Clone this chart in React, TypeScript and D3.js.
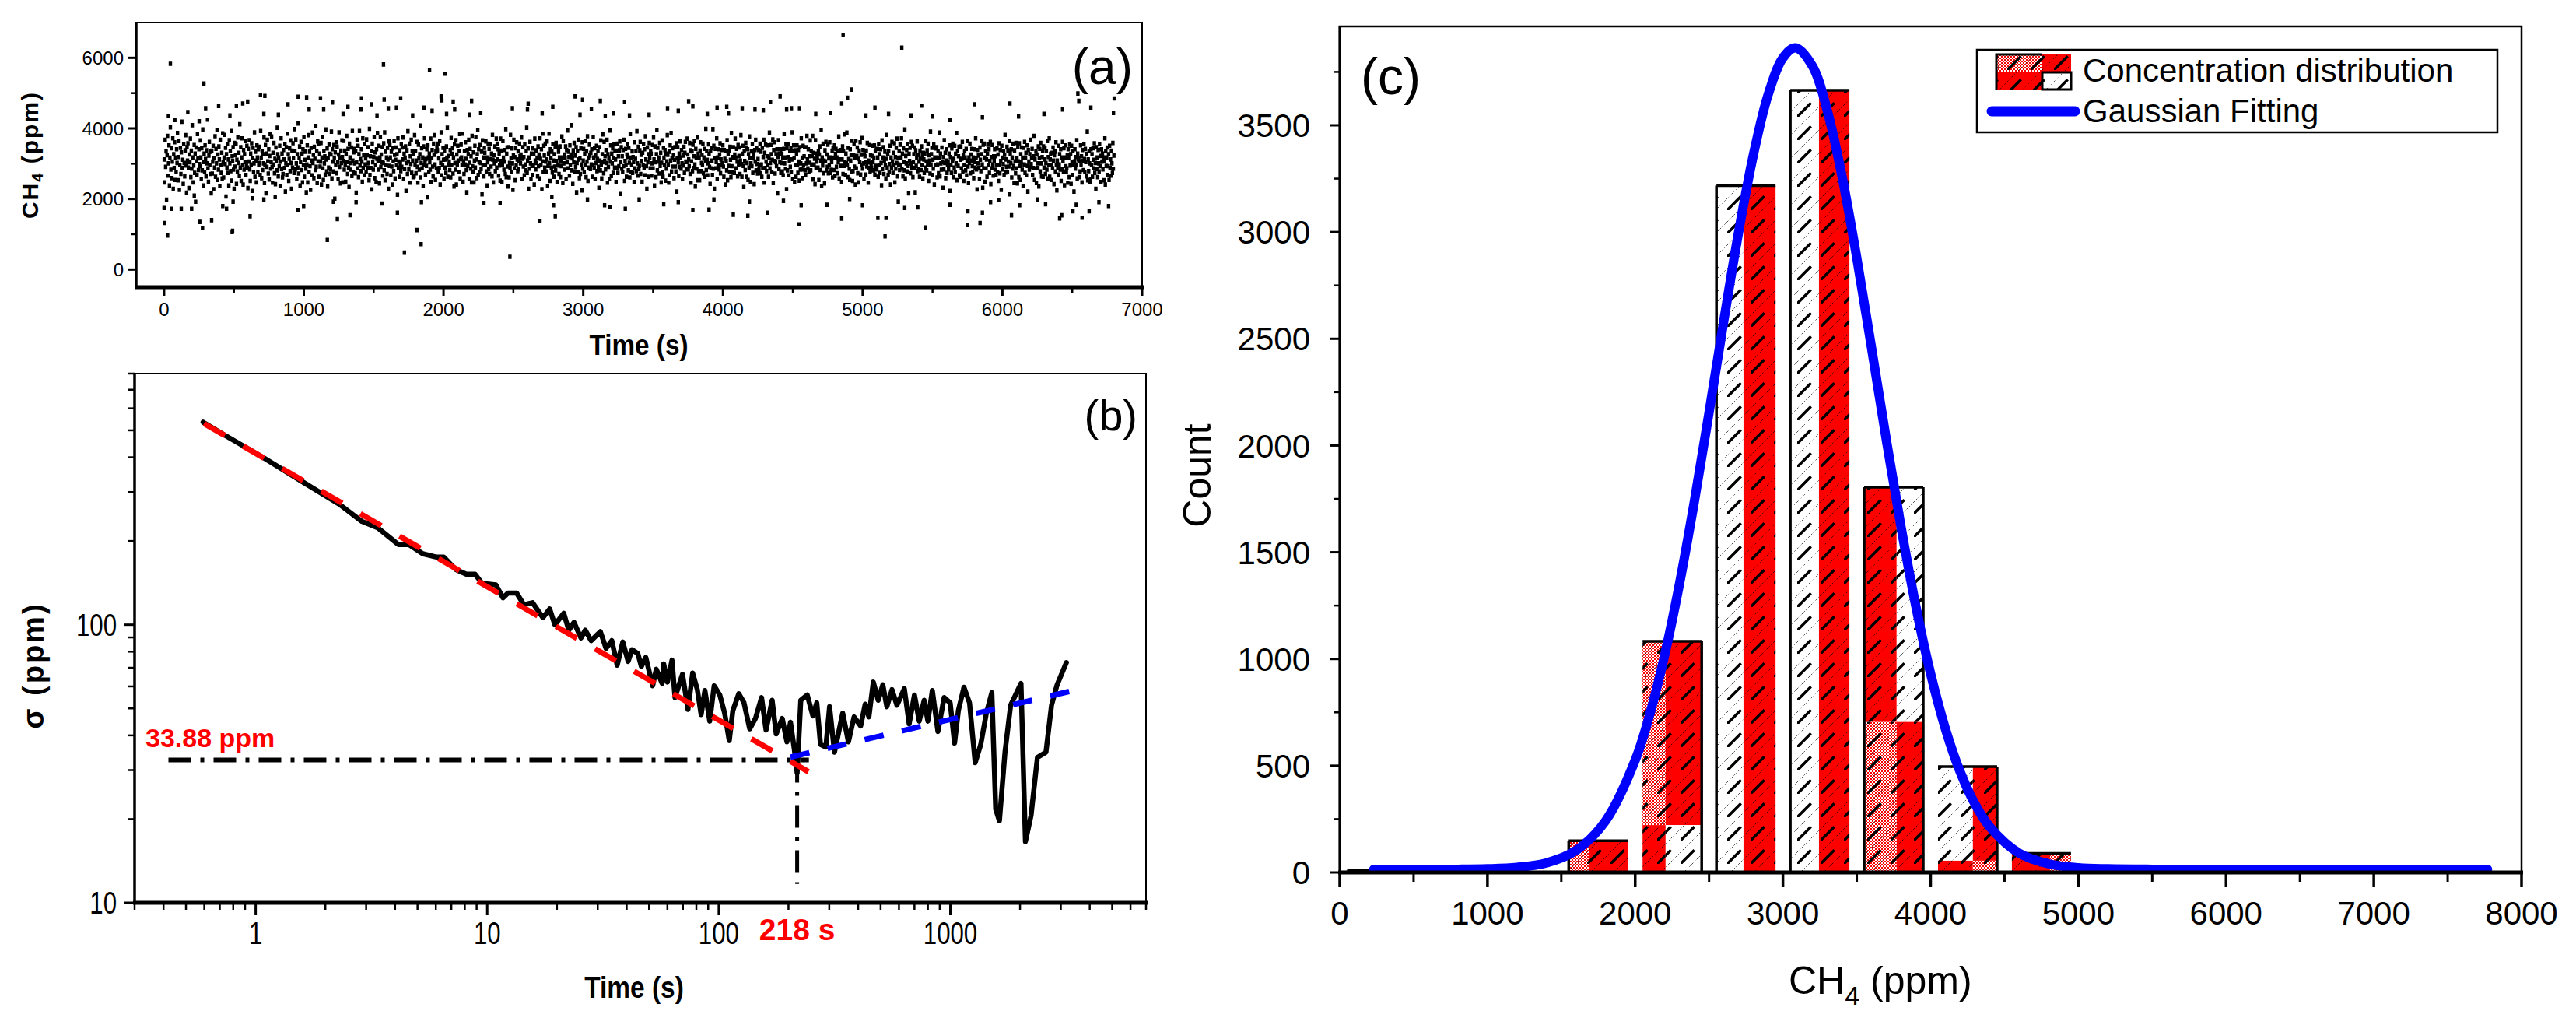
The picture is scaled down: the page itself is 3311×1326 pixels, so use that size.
import * as d3 from 'd3';

const W = 3311;
const H = 1326;
const FONT = '"Liberation Sans", Arial, sans-serif';

// ---------- (a) CH4 time series ----------
const A_X_TICKS = [0, 1000, 2000, 3000, 4000, 5000, 6000, 7000];
const A_X_MINOR = [500, 1500, 2500, 3500, 4500, 5500, 6500];
const A_Y_TICKS = [0, 2000, 4000, 6000];
const A_Y_MINOR = [1000, 3000, 5000];
const SAMPLE_STEP = 3.4; // seconds between the kept samples
// CH4 readings in units of 10 ppm
const CH4_TENS = [
  312,247,368,291,335,198,324,379,266,301,352,238,317,403,283,344,259,306,372,229,327,288,361,254,318,
  276,341,302,387,253,319,364,226,297,345,271,332,419,288,311,243,356,302,264,338,381,295,218,347,309,
  358,289,231,326,304,371,262,337,286,409,318,247,295,353,274,329,192,346,307,268,384,315,282,341,299,
  293,366,318,257,344,281,397,305,238,329,276,352,313,264,338,301,425,287,249,323,362,296,271,334,216,
  337,272,306,351,228,315,289,378,263,342,301,395,254,326,283,349,312,237,368,297,274,331,258,386,304,
  261,318,382,299,345,207,327,289,356,274,312,238,367,301,336,279,393,252,321,308,347,283,229,359,292,
  324,356,243,311,278,374,302,331,265,412,289,347,251,318,372,296,241,339,283,327,305,364,268,295,351,
  289,231,342,306,367,284,251,329,298,358,223,316,345,276,301,389,263,334,309,247,352,318,277,341,296,
  348,302,268,393,317,259,336,282,327,301,374,245,298,353,216,329,291,368,307,272,341,255,322,384,286,
  305,377,291,246,331,298,359,273,314,242,346,309,281,402,327,264,318,293,351,236,306,372,285,329,261,
  271,339,312,288,356,221,301,347,268,385,296,327,251,314,343,279,366,302,229,337,289,358,316,274,398,
  336,284,369,301,257,327,289,414,272,316,349,238,305,362,282,328,247,341,297,376,263,311,334,286,219,
  298,352,247,318,381,276,334,293,226,345,309,267,388,302,325,259,348,314,282,407,291,336,245,363,307,
  357,263,329,292,306,359,241,318,375,287,254,336,301,321,269,397,312,278,343,235,316,289,354,271,328,
  284,326,391,258,341,306,278,353,317,201,332,296,361,273,348,304,256,326,389,291,318,244,337,302,366,
  319,247,308,365,283,337,296,249,328,379,305,271,342,289,234,357,318,283,302,346,265,393,309,276,332,
  342,301,273,336,218,304,368,287,351,262,327,393,295,313,279,341,306,249,372,288,324,356,267,298,315,
  276,369,324,289,347,302,253,399,268,321,288,336,227,357,304,283,319,375,259,332,296,248,341,314,387,
  309,283,351,244,318,376,291,326,304,347,266,302,358,281,389,253,334,297,318,271,345,312,229,363,294,
  353,318,267,334,292,241,343,307,279,364,325,258,311,346,296,327,212,372,289,306,263,338,301,279,356,
  291,346,312,374,256,328,285,317,349,223,302,338,271,392,306,284,357,246,321,299,368,274,335,309,262,
  327,264,381,298,336,273,309,362,291,246,354,315,283,327,408,261,302,344,287,318,236,349,297,372,308,
  269,313,294,341,205,352,318,276,329,304,283,371,248,316,339,292,264,357,325,381,298,254,334,287,346,
  338,357,276,315,288,364,241,302,389,267,327,296,345,311,258,336,289,312,274,349,317,402,263,296,322,
  306,282,339,261,373,297,328,344,272,318,235,355,302,283,367,241,326,298,351,309,277,336,384,258,313,
  354,318,296,385,249,307,271,336,298,361,314,282,219,339,294,327,368,256,303,342,286,321,247,379,293,
  278,332,247,309,351,289,376,312,259,327,396,268,341,305,276,353,302,285,334,213,366,297,318,264,345,
  331,296,363,278,318,238,304,357,285,342,271,313,356,292,329,264,382,311,247,324,301,349,279,308,371,
  289,357,312,341,266,329,295,252,371,308,337,248,296,364,317,283,306,339,271,398,262,328,346,292,235,
  347,261,302,289,382,316,277,343,301,226,325,368,287,319,253,344,297,361,312,279,335,284,309,357,321,
  301,326,374,256,314,347,292,319,267,355,298,281,336,402,274,309,343,229,318,286,362,301,257,329,294,
  268,343,295,328,241,371,309,284,338,302,317,264,349,293,326,258,372,314,297,341,228,307,385,276,351,
  323,289,357,306,278,312,363,236,294,329,385,302,251,341,316,289,334,275,356,309,263,327,292,348,281,
  359,308,248,347,295,334,271,318,349,262,306,293,377,318,245,364,301,326,283,317,349,256,339,304,394,
  287,334,319,266,352,297,326,409,281,315,243,338,304,359,278,323,291,347,219,302,336,277,368,312,259,
  316,271,343,298,224,361,286,309,342,276,329,364,297,262,335,306,378,251,317,289,354,323,285,331,298,
  341,297,263,376,318,289,344,257,323,302,351,279,313,336,291,232,347,309,281,366,296,258,327,383,304,
  273,362,308,321,284,339,302,368,246,327,291,318,256,394,306,352,265,329,301,343,274,316,355,289,337,
  312,248,336,289,357,274,321,293,338,363,214,305,347,286,321,276,339,293,368,251,308,342,297,263,326,
  356,319,281,345,303,261,384,317,276,298,335,274,319,305,248,361,287,314,336,279,392,301,266,348,285,
  294,338,362,271,325,308,249,331,297,356,288,341,267,378,312,293,229,346,304,327,263,359,318,287,336,
  328,266,301,353,287,374,312,238,349,304,262,327,396,281,345,306,318,272,359,294,331,247,303,366,275,
  263,345,317,296,339,252,329,286,307,381,325,298,246,334,267,352,309,387,278,316,344,292,325,259,311,
  347,292,278,358,221,316,347,304,265,329,291,363,318,286,339,301,256,323,295,348,274,331,362,306,284,
  305,371,326,284,312,293,359,271,338,246,307,335,279,354,288,321,364,298,235,342,317,286,253,374,329,
  279,318,253,337,361,279,302,325,296,357,273,318,342,263,309,399,282,336,311,267,301,355,328,291,243,
  336,287,344,309,268,398,286,351,229,316,342,287,305,372,256,318,297,341,284,326,358,273,312,339,298,
  301,352,292,263,339,314,241,336,308,281,367,253,328,294,336,276,348,311,262,387,293,319,275,347,316,
  274,326,371,318,287,342,306,264,353,297,322,346,271,309,381,299,263,328,351,294,234,336,308,282,359,
  345,263,302,341,254,327,289,377,316,248,301,335,293,356,274,327,315,242,339,306,368,281,344,299,272,
  313,339,284,296,357,273,334,298,263,345,287,319,368,246,331,288,354,306,279,321,297,352,263,318,388,
  287,302,353,327,276,311,369,245,339,308,361,272,304,327,293,341,216,319,367,285,328,304,341,274,302,
  329,278,316,267,342,384,301,318,286,356,228,344,281,319,356,267,309,336,291,343,276,312,389,256,337,
  352,316,248,338,296,263,327,352,297,274,339,306,252,347,283,301,372,284,317,259,351,295,321,347,281,
  268,347,301,379,312,287,341,276,321,303,366,281,336,298,322,379,255,331,298,314,242,367,289,306,329,
  317,289,335,254,326,349,282,309,396,237,318,295,357,273,309,244,338,307,362,281,326,291,354,273,315,
  296,361,274,318,283,305,337,261,344,317,282,352,265,328,342,291,318,273,336,304,377,258,312,339,294,
  338,248,312,349,271,336,294,383,305,268,329,301,388,296,262,345,313,286,254,341,309,324,278,365,251,
  279,324,357,292,318,241,365,287,322,346,273,314,247,337,305,361,269,325,297,373,286,339,301,257,326,
  321,305,269,337,292,359,304,246,309,288,353,276,324,301,289,322,351,304,281,317,352,269,336,294,342,
  284,342,318,263,356,297,327,274,341,302,239,366,285,318,347,271,309,334,296,258,382,314,289,327,268,
  336,276,299,351,241,318,289,362,307,274,331,296,358,247,319,286,345,302,371,264,317,298,336,282,354,
  297,318,372,286,329,264,343,305,281,397,258,322,301,339,278,356,294,216,328,308,345,273,301,362,289,
  351,262,305,327,288,346,219,338,294,317,363,279,325,284,306,263,337,314,282,349,297,323,258,331,312,
  274,329,289,364,307,281,338,296,357,251,324,309,272,391,298,327,345,268,311,286,354,241,318,296,343,
  318,347,261,298,336,273,316,388,264,329,301,283,346,305,232,319,284,367,302,331,259,309,341,274,296,
  306,284,329,352,223,319,296,274,343,308,357,262,314,289,351,276,328,301,387,253,336,294,321,348,267,
  263,311,349,287,314,362,278,324,251,297,336,318,281,342,267,309,364,292,245,318,302,357,273,326,309,
  342,293,276,318,259,305,341,289,372,316,284,227,339,301,323,288,256,346,311,279,327,364,298,232,354,
  287,357,318,249,336,287,312,263,328,354,296,341,274,308,362,242,319,287,353,298,266,321,309,341,283,
  321,268,297,343,277,326,251,358,297,273,339,308,226,351,284,317,299,336,268,325,382,275,312,291,348,
  276,338,306,292,364,213,329,302,341,261,318,286,357,294,245,338,307,273,359,287,316,244,348,307,262,
  358,294,254,327,305,346,283,317,236,345,298,362,274,318,331,267,352,294,221,339,306,283,327,368,291,
  299,317,342,268,288,321,379,254,312,287,334,245,326,301,288,349,235,316,342,278,359,301,264,319,337,
  263,349,289,312,345,271,302,336,283,364,258,319,297,372,263,312,328,254,296,331,287,346,309,242,324,
  334,278,361,297,224,309,287,351,269,298,327,283,341,251,318,286,362,309,278,344,239,318,352,293,276,
  287,323,246,341,318,262,354,295,327,243,351,304,268,336,296,221,307,341,286,319,298,367,258,329,312,
  316,262,307,278,352,296,321,247,339,308,282,356,313,277,342,305,264,328,391,253,312,279,336,301,248,
  255,341,296,327,263,344,287,311,358,274,302,229,347,285,318,262,339,301,278,356,293,322,248,341,306,
  329,284,318,253,307,372,241,336,294,318,346,268,293,327,254,351,288,312,266,337,301,274,359,286,323,
];
// sparse readings outside the dense band: [time s, ppm]
const CH4_SPARSE: [number, number][] = [
  [45, 5830], [285, 5270], [1570, 5810], [1900, 5650], [2010, 5550], [4860, 6640], [5280, 6290],
  [4920, 5100], [6540, 4990], [6800, 4850], [690, 4950], [960, 4900], [1020, 4880],
  [5, 1320], [25, 960], [275, 1180], [255, 1350], [340, 1400], [487, 1065], [490, 1100],
  [615, 1510], [1168, 840], [1240, 1430], [1330, 1540], [1720, 480], [1840, 720], [1810, 1120],
  [2475, 360], [2690, 1380], [2800, 1510], [4545, 1280], [5160, 940], [5450, 1190], [5750, 1260],
  [5840, 1320], [6410, 1450], [6570, 1470],
  // upper fringe
  [721, 4921], [1119, 4854], [1205, 4736], [1413, 4854], [1575, 4817], [1693, 4854], [1983, 4906],
  [1988, 4795], [2069, 4758], [2201, 4780], [2606, 4699], [2942, 4906], [2995, 4810], [3122, 4780],
  [3296, 4743], [563, 4706], [598, 4758], [517, 4632], [390, 4632], [297, 4573], [170, 4462],
  [887, 4684], [1038, 4536], [1142, 4536], [1316, 4610], [1409, 4536], [1485, 4684], [1605, 4573],
  [1663, 4588], [1860, 4588], [1918, 4499], [2080, 4536], [2493, 4573], [2601, 4536], [2782, 4610],
  [3058, 4558], [3215, 4425], [3157, 4351], [3331, 4366], [2977, 4388], [2706, 4425], [2266, 4440],
  [2185, 4388], [2022, 4410], [1779, 4366], [1524, 4366], [1281, 4410], [818, 4388], [714, 4410],
  [471, 4366], [31, 4351], [77, 4240], [251, 4203],
  [4409, 4906], [4340, 4743], [4891, 4869], [3754, 4773], [3784, 4625], [3603, 4573], [3958, 4588],
  [4027, 4610], [4138, 4573], [4229, 4536], [4490, 4573], [4548, 4573], [4850, 4706], [5088, 4588],
  [5422, 4647], [5799, 4684], [6054, 4706], [6547, 4780], [6633, 4588], [6795, 4440], [6431, 4536],
  [6297, 4410], [6116, 4336], [5857, 4314], [5625, 4240], [5498, 4336], [5347, 4366], [5185, 4410],
  [5023, 4366], [4769, 4440], [4664, 4410], [4456, 4536], [4289, 4514], [4039, 4425], [3888, 4410],
  [3680, 4499], [3471, 4388],
  // lower fringe
  [1670, 1613], [0, 1746], [54, 1724], [123, 1724], [197, 1724], [447, 1724], [420, 1798],
  [957, 1687], [999, 1798], [1842, 1909], [2289, 1887], [2405, 1887], [2787, 1820], [3153, 1820],
  [3192, 1776], [3301, 1724], [3400, 1983], [3030, 1983], [2775, 2057], [1559, 1872], [1374, 1909],
  [1212, 1924], [795, 2057], [633, 2020], [216, 2094], [494, 1924], [714, 1983],
  [4850, 1443], [5109, 1465], [5167, 1465], [5753, 1650], [5857, 1613], [6065, 1539], [6424, 1539],
  [6505, 1650], [6621, 1650], [4074, 1554], [4178, 1524], [4317, 1613], [3784, 1687], [3900, 1702],
  [3576, 1850], [3680, 1909], [4560, 1820], [4745, 1835], [4999, 1820], [5301, 1746], [5394, 1761],
  [5625, 1835], [5915, 1909], [6123, 1820], [6309, 1850], [6760, 1798], [6691, 1909], [6529, 1835],
  [3935, 1983], [4189, 1924], [4433, 1946], [4907, 1998], [5255, 1924], [5973, 1968], [6251, 1983],
];

// ---------- (b) Allan deviation ----------
const ALLAN: [number, number][] = [
  [0.593, 535], [0.736, 480], [1.08, 399], [1.57, 329], [2.3, 271], [2.88, 235], [3.37, 223],
  [4.14, 194], [4.59, 194], [5.27, 180], [6.05, 175], [6.49, 175], [7.32, 158], [8.12, 152],
  [8.86, 152], [9.49, 141], [10.9, 139], [11.7, 125], [12.3, 130], [13.4, 130], [14.4, 118],
  [15.7, 120], [17.4, 106], [18.6, 114], [19.6, 100], [21.4, 110], [22.5, 95.6], [23.7, 102],
  [25.4, 89.6], [26.5, 95.6], [28.1, 87.7], [30.8, 94.5], [32.6, 82.2], [34.5, 87.7], [36.4, 71.5],
  [38.5, 86.7], [40.6, 73.8], [42.2, 81.3], [44.7, 78.8], [46.3, 70.8], [48.4, 76.3], [51.8, 60.3],
  [53.7, 69.2], [56.9, 61.5], [57.8, 72.3], [60, 62.2], [62.8, 74.6], [64.7, 54.7], [69.7, 66.4],
  [73.6, 49.6], [77.1, 67], [80.8, 58.4], [83.9, 47.5], [87.1, 58], [91.4, 45], [95.5, 60.3],
  [101, 55.9], [106, 48.1], [111, 38.3], [115, 49.1], [122, 56.5], [128.5, 52.4], [136, 42.2],
  [144, 46], [153, 54.7], [160, 41.8], [170, 53.5], [177, 40.5], [188, 46], [197, 37.9],
  [204, 44.6], [212, 35.6], [218, 29.3], [226, 53.5], [241, 55.9], [255, 47], [265, 52.4],
  [275, 37.1], [290, 36.3], [301, 50.7], [316, 34.8], [343, 48.1], [363, 37.9], [384, 46.6],
  [410, 43.2], [429, 51.8], [445, 46.6], [465, 62.2], [488, 53.5], [511, 60.8], [532, 50.7],
  [560, 58.4], [588, 51.3], [633, 58.9], [664, 44], [700, 55.9], [734, 45], [771, 53.5],
  [800, 45], [836, 58], [884, 41.3], [940, 54.7], [998, 52.4], [1043, 37.5], [1083, 49.1],
  [1145, 59.6], [1210, 52.4], [1280, 31.9], [1353, 37.1], [1431, 48.1], [1511, 57], [1570, 21.7],
  [1629, 19.7], [1722, 34.8], [1821, 51.3], [2019, 61.5], [2110, 16.6], [2231, 20.6], [2377, 33.3],
  [2588, 34.8], [2735, 51.3], [2891, 60.8], [3171, 73.1],
];
const FIT_WHITE: [number, number][] = [[0.598, 529], [244, 29.6]];
const FIT_DRIFT: [number, number][] = [[204, 33.4], [3614, 58.7]];
const SIGMA_LINE: [number, number][] = [[0.42, 32.6], [245, 32.6]];
const TAU_LINE: [number, number][] = [[218, 32.6], [218, 11.7]];
const B_X_LABELS = [1, 10, 100, 1000];
const B_Y_LABELS = [10, 100];

// ---------- (c) histogram ----------
const C_X_TICKS = [0, 1000, 2000, 3000, 4000, 5000, 6000, 7000, 8000];
const C_Y_TICKS = [0, 500, 1000, 1500, 2000, 2500, 3000, 3500];
const BIN_START = [50, 1550, 2050, 2550, 3050, 3550, 4050, 4550];
const BIN_END = [450, 1950, 2450, 2950, 3450, 3950, 4450, 4950];
const BIN_COUNT = [8, 149, 1083, 3217, 3664, 1805, 496, 89];
const BIN_SPLIT_X = [250, 1685, 2206, 2733, 3244, 3770, 4286, 4808];
const BIN_SPLIT_Y = [0, 0, 222, 0, 0, 705, 55, 0];
// fill of [left top, left bottom, right top, right bottom]
const BIN_FILLS = [
  ['red', 'red', 'red', 'red'],
  ['pink', 'pink', 'red', 'red'],
  ['pink', 'red', 'red', 'white'],
  ['white', 'white', 'red', 'red'],
  ['white', 'white', 'red', 'red'],
  ['red', 'pink', 'white', 'red'],
  ['white', 'red', 'red', 'pink'],
  ['red', 'red', 'pink', 'pink'],
];
// black outline on [left, top, right]
const BIN_EDGES = [
  [1, 1, 1], [1, 1, 0], [0, 1, 1], [1, 1, 0], [1, 1, 0], [1, 1, 1], [0, 1, 1], [0, 1, 0],
];
const GAUSS: [number, number][] = [
  [230, 15], [800, 15], [1000, 17], [1200, 24], [1400, 45], [1600, 103], [1800, 242], [2000, 526],
  [2100, 744], [2200, 1020], [2300, 1353], [2400, 1736], [2500, 2155], [2600, 2586], [2700, 3000],
  [2800, 3362], [2900, 3644], [3000, 3816], [3085, 3863], [3200, 3777], [3300, 3570], [3400, 3261],
  [3500, 2879], [3600, 2457], [3700, 2027], [3800, 1617], [3900, 1247], [4000, 931], [4100, 673],
  [4200, 471], [4300, 321], [4400, 214], [4600, 90], [4800, 40], [5000, 22], [5200, 17],
  [5500, 15], [7770, 15],
];

const FILL: Record<string, string> = { red: '#ff0000', white: '#ffffff', pink: 'url(#stipple)' };

export default function App() {
  const xA = d3.scaleLinear().domain([-200, 7000]).range([175, 1468]);
  const yA = d3.scaleLinear().domain([-500, 7000]).range([369, 29]);
  const xB = d3.scaleLog().domain([0.3, 7000]).range([173, 1473]);
  const yB = d3.scaleLog().domain([10, 800]).range([1160, 480]);
  const xC = d3.scaleLinear().domain([0, 8000]).range([1722, 3241]);
  const yC = d3.scaleLinear().domain([0, 3963]).range([1121, 34]);

  const lineB = d3.line<[number, number]>().x(d => xB(d[0])).y(d => yB(d[1]));
  const gaussLine = d3.line<[number, number]>()
    .x(d => xC(d[0])).y(d => yC(d[1])).curve(d3.curveCatmullRom.alpha(0.5));

  const bMinor = xB.ticks().filter(v => !B_X_LABELS.includes(v));
  const bYMinor = yB.ticks().filter(v => !B_Y_LABELS.includes(v));
  const cYMinor = d3.range(250, 3963, 500);
  const cXMinor = d3.range(500, 8000, 1000);

  // scatter as one path of small squares
  const dot = (t: number, v: number) => `M${(xA(t) - 2.2).toFixed(1)},${(yA(v) - 2.8).toFixed(1)}h4.4v5.6h-4.4z`;
  const scatterPath =
    CH4_TENS.map((v, i) => dot(i * SAMPLE_STEP + 1, v * 10)).join('') +
    CH4_SPARSE.map(([t, v]) => dot(t, v)).join('');

  return (
    <svg width={W} height={H} style={{ position: 'absolute', left: 0, top: 0, background: '#fff' }}
      fontFamily={FONT}>
      <defs>
        <pattern id="hatch" patternUnits="userSpaceOnUse" width={30} height={30}>
          <line x1={0} y1={30} x2={30} y2={0} stroke="#000" strokeWidth={3.5} strokeDasharray="25 17.4" />
          <line x1={0} y1={15} x2={15} y2={0} stroke="#000" strokeWidth={1} strokeDasharray="2 2" opacity={0.7} />
          <line x1={15} y1={30} x2={30} y2={15} stroke="#000" strokeWidth={1} strokeDasharray="2 2" opacity={0.7} />
        </pattern>
        <pattern id="stipple" patternUnits="userSpaceOnUse" width={4} height={4}>
          <rect width={4} height={4} fill="#fff" />
          <rect width={2} height={2} fill="#ff0000" />
          <rect x={2} y={2} width={2} height={2} fill="#ff0000" />
        </pattern>
      </defs>

      {/* ===== (a) ===== */}
      <g>
        <path d={scatterPath} fill="#000" />
        <rect x={175} y={29} width={1468 - 175} height={340} fill="none" stroke="#000" strokeWidth={2} />
        <line x1={175} y1={29} x2={175} y2={369} stroke="#000" strokeWidth={3.5} />
        <line x1={173} y1={369} x2={1470} y2={369} stroke="#000" strokeWidth={5} />
        {A_Y_TICKS.map(v => (
          <g key={v}>
            <line x1={164} x2={175} y1={yA(v)} y2={yA(v)} stroke="#000" strokeWidth={3} />
            <text x={159} y={yA(v)} dy="0.36em" textAnchor="end" fontSize={24}>{v}</text>
          </g>
        ))}
        {A_Y_MINOR.map(v => (
          <line key={v} x1={168} x2={175} y1={yA(v)} y2={yA(v)} stroke="#000" strokeWidth={2.5} />
        ))}
        {A_X_TICKS.map(v => (
          <g key={v}>
            <line x1={xA(v)} x2={xA(v)} y1={369} y2={380} stroke="#000" strokeWidth={3} />
            <text x={xA(v)} y={406} textAnchor="middle" fontSize={24}>{v}</text>
          </g>
        ))}
        {A_X_MINOR.map(v => (
          <line key={v} x1={xA(v)} x2={xA(v)} y1={369} y2={376} stroke="#000" strokeWidth={2.5} />
        ))}
        <text transform="translate(49,199) rotate(-90)" textAnchor="middle" fontSize={30} fontWeight="bold" letterSpacing={2}>
          CH<tspan fontSize={20} dy={6}>4</tspan><tspan dy={-6}> (ppm)</tspan>
        </text>
        <text transform="translate(821,456) scale(0.9,1)" textAnchor="middle" fontSize={37} fontWeight="bold">Time (s)</text>
        <text x={1456} y={108} textAnchor="end" fontSize={64}>(a)</text>
      </g>

      {/* ===== (b) ===== */}
      <g>
        <path d={lineB(SIGMA_LINE) ?? ''} fill="none" stroke="#000" strokeWidth={6} strokeDasharray="29 12 5 12" />
        <path d={lineB(TAU_LINE) ?? ''} fill="none" stroke="#000" strokeWidth={5} strokeDasharray="29 12 5 12" />
        <path d={lineB(ALLAN) ?? ''} fill="none" stroke="#000" strokeWidth={6.5} strokeLinejoin="round" strokeLinecap="round" />
        <path d={lineB(FIT_WHITE) ?? ''} fill="none" stroke="#ff0000" strokeWidth={7} strokeDasharray="31 27" />
        <path d={lineB(FIT_DRIFT) ?? ''} fill="none" stroke="#0000ff" strokeWidth={7} strokeDasharray="25 24" />
        <rect x={173} y={480} width={1473 - 173} height={680} fill="none" stroke="#000" strokeWidth={2} />
        <line x1={173} y1={480} x2={173} y2={1160} stroke="#000" strokeWidth={3.5} />
        <line x1={171} y1={1160} x2={1475} y2={1160} stroke="#000" strokeWidth={5} />
        {B_Y_LABELS.map(v => (
          <g key={v}>
            <line x1={159} x2={173} y1={yB(v)} y2={yB(v)} stroke="#000" strokeWidth={3} />
            <text transform={`translate(150,${yB(v)}) scale(0.78,1)`} dy="0.36em" textAnchor="end" fontSize={40}>{v}</text>
          </g>
        ))}
        {bYMinor.map(v => (
          <line key={v} x1={165} x2={173} y1={yB(v)} y2={yB(v)} stroke="#000" strokeWidth={2.5} />
        ))}
        {B_X_LABELS.map(v => (
          <g key={v}>
            <line x1={xB(v)} x2={xB(v)} y1={1160} y2={1176} stroke="#000" strokeWidth={3} />
            <text transform={`translate(${xB(v)},1213) scale(0.78,1)`} textAnchor="middle" fontSize={40}>{v}</text>
          </g>
        ))}
        {bMinor.map(v => (
          <line key={v} x1={xB(v)} x2={xB(v)} y1={1160} y2={1169} stroke="#000" strokeWidth={2.5} />
        ))}
        <text transform="translate(56,855) rotate(-90)" textAnchor="middle" fontSize={38} fontWeight="bold" letterSpacing={3}>σ (ppm)</text>
        <text transform="translate(815,1282) scale(0.88,1)" textAnchor="middle" fontSize={38} fontWeight="bold">Time (s)</text>
        <text x={1462} y={553} textAnchor="end" fontSize={56}>(b)</text>
        <text x={187} y={960} fontSize={34} fontWeight="bold" fill="#ff0000">33.88 ppm</text>
        <text x={xB(218)} y={1208} textAnchor="middle" fontSize={39} fontWeight="bold" fill="#ff0000">218 s</text>
      </g>

      {/* ===== (c) ===== */}
      <g>
        {BIN_START.map((x0, i) => {
          const x1 = BIN_END[i];
          const sx = BIN_SPLIT_X[i];
          const h = BIN_COUNT[i];
          const sh = BIN_SPLIT_Y[i];
          const [lt, lb, rt, rb] = BIN_FILLS[i];
          const cols: [number, number, string, string][] = [[x0, sx, lt, lb], [sx, x1, rt, rb]];
          const regions: { a: number; b: number; lo: number; hi: number; f: string }[] = [];
          cols.forEach(([a, b, top, bot]) => {
            if (sh > 0) {
              regions.push({ a, b, lo: sh, hi: h, f: top });
              regions.push({ a, b, lo: 0, hi: sh, f: bot });
            } else regions.push({ a, b, lo: 0, hi: h, f: top });
          });
          const [eL, eT, eR] = BIN_EDGES[i];
          let d = '';
          if (eL) d += `M${xC(x0)},${yC(0)}V${yC(h)}`;
          if (eT) d += `M${xC(x0)},${yC(h)}H${xC(x1)}`;
          if (eR) d += `M${xC(x1)},${yC(h)}V${yC(0)}`;
          return (
            <g key={i}>
              {regions.map((r, k) => (
                <g key={k}>
                  <rect x={xC(r.a)} y={yC(r.hi)} width={xC(r.b) - xC(r.a)} height={yC(r.lo) - yC(r.hi)} fill={FILL[r.f]} />
                  <rect x={xC(r.a)} y={yC(r.hi)} width={xC(r.b) - xC(r.a)} height={yC(r.lo) - yC(r.hi)} fill="url(#hatch)" />
                </g>
              ))}
              <path d={d} fill="none" stroke="#000" strokeWidth={3.5} />
            </g>
          );
        })}
        <path d={gaussLine(GAUSS) ?? ''} fill="none" stroke="#0000ff" strokeWidth={12} strokeLinecap="round" strokeLinejoin="round" />
        <rect x={1722} y={34} width={3241 - 1722} height={1121 - 34} fill="none" stroke="#000" strokeWidth={2.5} />
        <line x1={1722} y1={34} x2={1722} y2={1121} stroke="#000" strokeWidth={3} />
        <line x1={1720} y1={1121} x2={3243} y2={1121} stroke="#000" strokeWidth={5} />
        {C_Y_TICKS.map(v => (
          <g key={v}>
            <line x1={1710} x2={1722} y1={yC(v)} y2={yC(v)} stroke="#000" strokeWidth={3} />
            <text x={1684} y={yC(v)} dy="0.36em" textAnchor="end" fontSize={42}>{v}</text>
          </g>
        ))}
        {cYMinor.map(v => (
          <line key={v} x1={1715} x2={1722} y1={yC(v)} y2={yC(v)} stroke="#000" strokeWidth={2.5} />
        ))}
        {C_X_TICKS.map(v => (
          <g key={v}>
            <line x1={xC(v)} x2={xC(v)} y1={1121} y2={1140} stroke="#000" strokeWidth={3.5} />
            <text x={xC(v)} y={1188} textAnchor="middle" fontSize={42}>{v}</text>
          </g>
        ))}
        {cXMinor.map(v => (
          <line key={v} x1={xC(v)} x2={xC(v)} y1={1121} y2={1133} stroke="#000" strokeWidth={3} />
        ))}
        <text transform="translate(1556,611) rotate(-90)" textAnchor="middle" fontSize={50}>Count</text>
        <text x={2299} y={1277} fontSize={50}>
          CH<tspan fontSize={34} dy={14}>4</tspan><tspan dy={-14}> (ppm)</tspan>
        </text>
        <text x={1749} y={121} fontSize={66}>(c)</text>

        {/* legend */}
        <rect x={2541} y={64} width={3210 - 2541} height={170 - 64} fill="#fff" stroke="#000" strokeWidth={2.5} />
        <rect x={2566} y={70} width={59} height={23} fill="url(#stipple)" />
        <rect x={2625} y={70} width={37} height={23} fill="#ff0000" />
        <rect x={2566} y={93} width={59} height={22} fill="#ff0000" />
        <rect x={2625} y={93} width={37} height={22} fill="#fff" />
        <rect x={2566} y={70} width={96} height={45} fill="url(#hatch)" />
        <path d="M2566,115V70H2625M2625,93H2662V115H2625Z" fill="none" stroke="#000" strokeWidth={3} />
        <text x={2677} y={105} fontSize={42}>Concentration distribution</text>
        <line x1={2560} x2={2667} y1={143} y2={143} stroke="#0000ff" strokeWidth={13} strokeLinecap="round" />
        <text x={2677} y={157} fontSize={42}>Gaussian Fitting</text>
      </g>
    </svg>
  );
}
